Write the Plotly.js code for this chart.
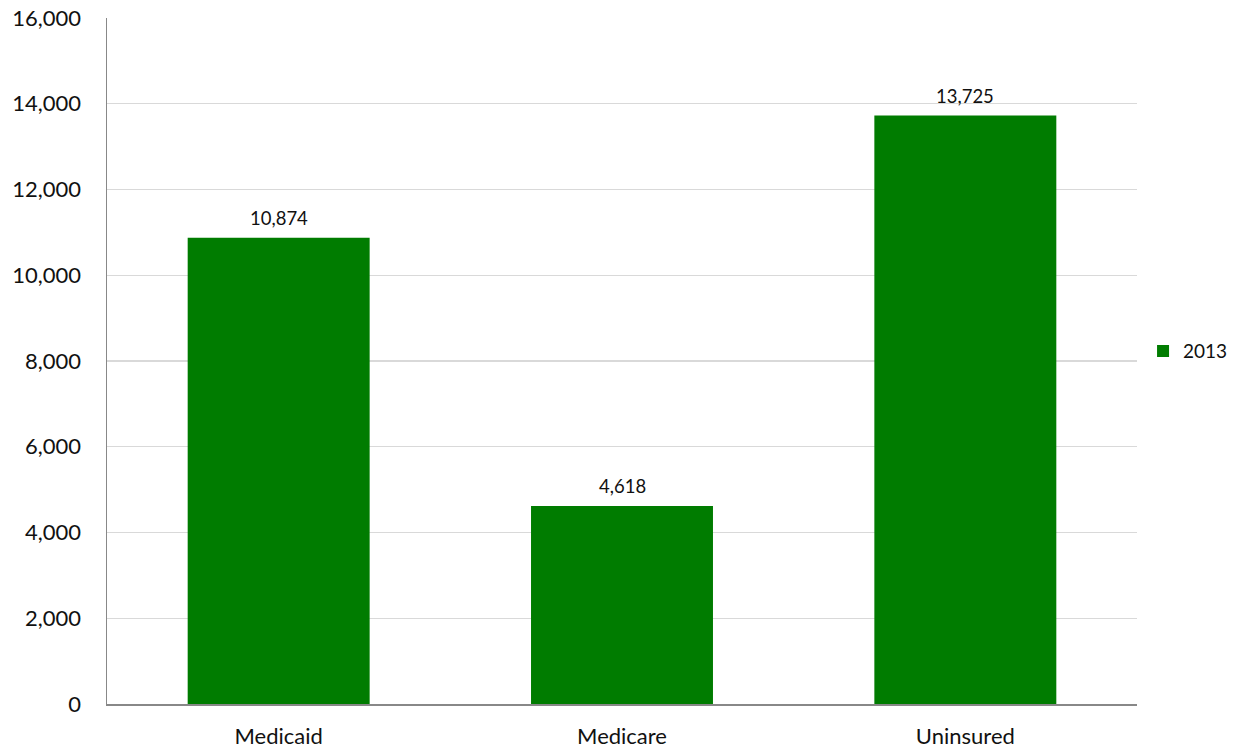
<!DOCTYPE html>
<html>
<head>
<meta charset="utf-8">
<script src="https://cdn.plot.ly/plotly-3.0.1.min.js"></script>
<style>html,body{margin:0;padding:0;background:#fff;}#chart{width:1236px;height:752px;}</style>
</head>
<body>
<div id="chart"></div>
<script>
const categories = ["Medicaid", "Medicare", "Uninsured"];
const values2013 = [10874, 4618, 13725];
const seriesName = "2013";
const yTickVals = [0, 2000, 4000, 6000, 8000, 10000, 12000, 14000, 16000];

const FONT = 'Lato, "Open Sans", sans-serif';

const trace = {
  type: 'bar',
  x: categories,
  y: values2013,
  name: seriesName,
  marker: {color: '#007C00'},
  hoverinfo: 'x+y'
};

const labelAnnotations = categories.map((c, i) => ({
  x: c, y: values2013[i], xref: 'x', yref: 'y',
  text: values2013[i].toLocaleString('en-US'),
  showarrow: false, yanchor: 'bottom', yshift: 7,
  font: {family: FONT, size: 18.5, color: '#111'}
}));

const layout = {
  width: 1236, height: 752,
  margin: {l: 107, r: 99, t: 18, b: 48},
  paper_bgcolor: '#fff', plot_bgcolor: '#fff',
  bargap: 0.47,
  showlegend: true,
  legend: {xref: 'container', yref: 'container', x: 0.9248, y: 0.533,
           xanchor: 'left', yanchor: 'middle',
           font: {family: FONT, size: 19, color: '#111'},
           itemwidth: 30},
  font: {family: FONT, color: '#111'},
  annotations: labelAnnotations,
  xaxis: {
    showline: true, linecolor: '#888', linewidth: 1.5,
    ticks: 'outside', ticklen: 12, tickcolor: 'rgba(0,0,0,0)',
    tickfont: {size: 22, color: '#111'},
    showgrid: false, fixedrange: true
  },
  yaxis: {
    range: [0, 16000], tickvals: yTickVals,
    tickformat: ',d',
    showline: true, linecolor: '#888', linewidth: 1.5,
    showgrid: true, gridcolor: '#d9d9d9', gridwidth: 1.3,
    zeroline: false,
    ticks: 'outside', ticklen: 20, tickcolor: 'rgba(0,0,0,0)',
    tickfont: {size: 22, color: '#111'},
    fixedrange: true
  }
};

Plotly.newPlot('chart', [trace], layout, {displayModeBar: false, staticPlot: true});
</script>
</body>
</html>
